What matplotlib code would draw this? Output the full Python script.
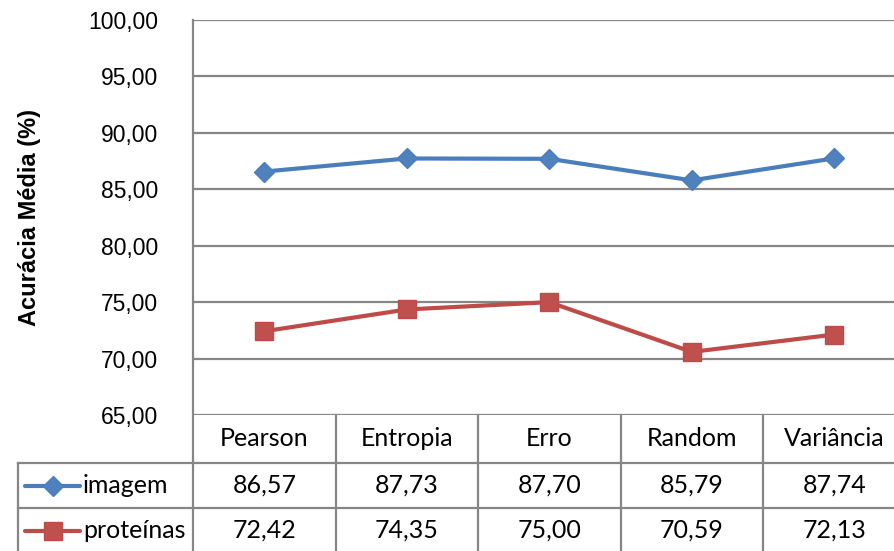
import matplotlib
matplotlib.use("Agg")
import matplotlib.pyplot as plt
from matplotlib.lines import Line2D

# Data
categories = ["Pearson", "Entropia", "Erro", "Random", "Variância"]
imagem = [86.57, 87.73, 87.70, 85.79, 87.74]
proteinas = [72.42, 74.35, 75.00, 70.59, 72.13]
series_names = ["imagem", "proteínas"]
y_ticks = [65, 70, 75, 80, 85, 90, 95, 100]

W, H = 894, 551
fig = plt.figure(figsize=(W / 100, H / 100), dpi=100)

GRID = "#868686"
BLUE = "#4A7EBB"
RED = "#BE4B48"
TABLE_FONT = "Lato"
TICK_FONT = "Liberation Sans"

# plot area in pixel coordinates (top-left origin)
x0, x1 = 193, 905.5
y_top, y_bot = 20, 415
ax = fig.add_axes([x0 / W, 1 - y_bot / H, (x1 - x0) / W, (y_bot - y_top) / H])
ax.set_xlim(0, len(categories))
ax.set_ylim(65, 100)
ax.set_yticks(y_ticks)
ax.set_yticklabels([f"{v:.2f}".replace(".", ",") for v in y_ticks],
                   fontsize=16.5, family=TICK_FONT)
ax.tick_params(axis="y", length=0, pad=25)
ax.set_xticks([])
for s in ax.spines.values():
    s.set_visible(False)
for v in y_ticks:
    ax.axhline(v, color=GRID, lw=1.6, zorder=1)

xs = [i + 0.5 for i in range(len(categories))]
ax.plot(xs, imagem, color=BLUE, lw=3, marker="D", ms=10,
        markerfacecolor="#4F81BD", markeredgecolor=BLUE, zorder=3, clip_on=False)
ax.plot(xs, proteinas, color=RED, lw=3, marker="s", ms=13,
        markerfacecolor="#C0504D", markeredgecolor=RED, zorder=3, clip_on=False)


def fx(px):
    return px / W


def fy(py):
    return 1 - py / H


# axis title
fig.text(fx(30), fy((y_top + y_bot) / 2), "Acurácia Média (%)", rotation=90,
         fontsize=17, fontweight="bold", family="Liberation Sans",
         ha="center", va="center", color="#000000")

# data table drawn in figure pixel coordinates
col_w = (x1 - x0) / len(categories)
legend_left = 18
row_tops = [415, 463, 508, 553]


def hline(y, xa, xb):
    fig.add_artist(Line2D([fx(xa), fx(xb)], [fy(y), fy(y)], color=GRID, lw=1.6))


def vline(x, ya, yb):
    fig.add_artist(Line2D([fx(x), fx(x)], [fy(ya), fy(yb)], color=GRID, lw=1.6))


vline(x0, y_top, H)
for i in range(1, len(categories) + 1):
    vline(x0 + i * col_w, 415, H)
vline(legend_left, row_tops[1], H)
hline(row_tops[1], legend_left, W)
hline(row_tops[2], legend_left, W)

txt_kw = dict(fontsize=18, family=TABLE_FONT, ha="center", va="center", color="#000000")
for i, c in enumerate(categories):
    cx = x0 + (i + 0.5) * col_w
    fig.text(fx(cx), fy((row_tops[0] + row_tops[1]) / 2), c, **txt_kw)

rows = [imagem, proteinas]
colors = [BLUE, RED]
markers = [("D", 10, "#4F81BD"), ("s", 13, "#C0504D")]
for r, (vals, name, col, mk) in enumerate(zip(rows, series_names, colors, markers)):
    cy = (row_tops[r + 1] + row_tops[r + 2]) / 2
    for i, v in enumerate(vals):
        cx = x0 + (i + 0.5) * col_w
        fig.text(fx(cx), fy(cy), f"{v:.2f}".replace(".", ","), **txt_kw)
    fig.add_artist(Line2D([fx(25), fx(80)], [fy(cy), fy(cy)], color=col, lw=3,
                          solid_capstyle="round"))
    fig.add_artist(Line2D([fx(52.5)], [fy(cy)], marker=mk[0], ms=mk[1],
                          markerfacecolor=mk[2], markeredgecolor=col, lw=0))
    fig.text(fx(83), fy(cy), name, fontsize=18, family=TABLE_FONT,
             ha="left", va="center", color="#000000")

fig.savefig("out.png", dpi=100, facecolor="white")
